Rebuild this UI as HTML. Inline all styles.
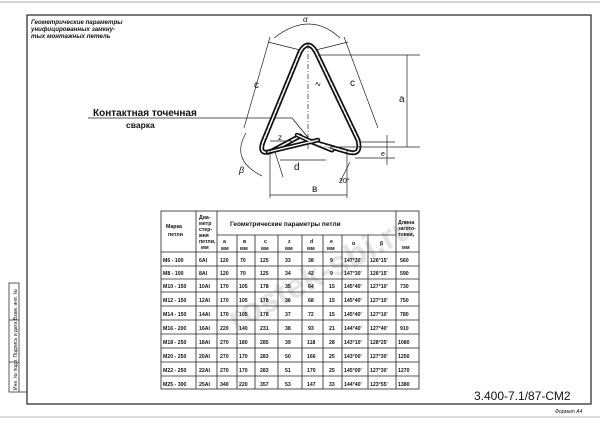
<!DOCTYPE html>
<html><head><meta charset="utf-8"><style>
html,body{margin:0;padding:0;background:#fff;}
svg{display:block;}
text{font-family:"Liberation Sans","DejaVu Sans",sans-serif;fill:#111;}
</style></head><body>
<svg width="600" height="427" viewBox="0 0 600 427" xmlns="http://www.w3.org/2000/svg">
<rect width="600" height="427" fill="#fff"/>
<line x1="0" y1="2" x2="600" y2="2" stroke="#aaa" stroke-width="1"/>
<line x1="0" y1="417" x2="600" y2="417" stroke="#bbb" stroke-width="1"/>
<rect x="27" y="15" width="564" height="389" fill="none" stroke="#222" stroke-width="1.2"/>
<!-- left stamp -->
<g stroke="#333" stroke-width="0.8" fill="none">
<rect x="9" y="283" width="10" height="109"/>
<line x1="9" y1="320" x2="19" y2="320"/><line x1="9" y1="362" x2="19" y2="362"/>
<line x1="19" y1="392" x2="27" y2="392"/>
</g>
<text transform="translate(17,390) rotate(-90)" font-size="5">Инв. № подл.   Подпись и дата   Взам. инв. №</text>
<!-- title -->
<text x="31" y="24" font-size="6.2" font-weight="bold" font-style="italic">Геометрические параметры</text>
<text x="31" y="31" font-size="6.2" font-weight="bold" font-style="italic">унифицированных замкну-</text>
<text x="31" y="38" font-size="6.2" font-weight="bold" font-style="italic">тых монтажных петель</text>
<!-- weld label -->
<text x="93" y="116" font-size="10" font-weight="bold">Контактная точечная</text>
<text x="126" y="128" font-size="8.5" font-weight="bold">сварка</text>
<polyline points="88,118 292,118 310,140" fill="none" stroke="#222" stroke-width="0.8"/>
<!-- triangle loop -->
<g fill="none" stroke-linecap="round" stroke-linejoin="round">
<path d="M300,136 L272,151 Q258,156 263,142 L300,52 Q308,38 316,52 L358,140 Q362,156 348,152 L310,141 L332,150" stroke="#111" stroke-width="5"/>
<path d="M300,136 L272,151 Q258,156 263,142 L300,52 Q308,38 316,52 L358,140 Q362,156 348,152 L310,141 L332,150" stroke="#fff" stroke-width="1.6" stroke-dasharray="4 1.5"/>
<path d="M268,152 L318,140 M297,135 L312,142" stroke="#111" stroke-width="4.5"/>
<path d="M268,152 L318,140 M297,135 L312,142" stroke="#fff" stroke-width="1.4"/>
</g>
<!-- dims -->
<g fill="none" stroke="#222" stroke-width="0.7">
<path d="M274,38 Q310,10 340,38"/>
<line x1="268" y1="42" x2="300" y2="50"/><line x1="348" y1="42" x2="316" y2="50"/>
<line x1="308" y1="44" x2="308" y2="150" stroke-dasharray="5 2 1 2"/>
<line x1="270" y1="37" x2="244" y2="128"/>
<line x1="344" y1="37" x2="378" y2="128"/>
<line x1="318" y1="55" x2="420" y2="55"/>
<line x1="330" y1="147" x2="420" y2="147"/>
<line x1="407" y1="55" x2="407" y2="147"/>
<line x1="360" y1="142" x2="395" y2="142"/>
<line x1="355" y1="158" x2="395" y2="158"/>
<line x1="387" y1="135" x2="387" y2="165"/>
<path d="M246,133 Q230,160 262,176"/>
<line x1="270" y1="150" x2="270" y2="198"/>
<line x1="347" y1="150" x2="347" y2="198"/>
<line x1="270" y1="195" x2="347" y2="195"/>
<line x1="280" y1="160" x2="326" y2="160"/>
<line x1="275" y1="152" x2="283" y2="177"/>
<line x1="340" y1="182" x2="350" y2="162"/>
<line x1="270" y1="141" x2="292" y2="141"/>
</g>
<text x="303" y="22" font-size="8" font-style="italic">α</text>
<text x="254" y="88" font-size="10">с</text>
<text x="350" y="86" font-size="10">с</text>
<text x="316" y="86" font-size="8" transform="rotate(-70 318 84)">z</text>
<text x="399" y="102" font-size="10">а</text>
<text x="381" y="156" font-size="7">е</text>
<text x="278" y="140" font-size="8">z</text>
<text x="239" y="173" font-size="9" font-style="italic">β</text>
<text x="294" y="170" font-size="10">d</text>
<text x="312" y="192" font-size="10">в</text>
<text x="339" y="183" font-size="7">20°</text>
<!-- watermark -->
<text x="200" y="290" font-size="34" transform="rotate(-28 300 240)" fill="#e2e2e2" style="fill:#e4e4e4" font-weight="bold">rostek-sbi.ru</text>
<!-- table -->
<g stroke="#222" stroke-width="0.8" fill="none">
<rect x="161" y="211" width="258" height="178"/>
<line x1="196" y1="211" x2="196" y2="389"/>
<line x1="217" y1="211" x2="217" y2="389"/>
<line x1="396" y1="211" x2="396" y2="389"/>
<line x1="217" y1="235" x2="396" y2="235"/>
<line x1="237" y1="235" x2="237" y2="389"/>
<line x1="255" y1="235" x2="255" y2="389"/>
<line x1="278" y1="235" x2="278" y2="389"/>
<line x1="302" y1="235" x2="302" y2="389"/>
<line x1="323" y1="235" x2="323" y2="389"/>
<line x1="342" y1="235" x2="342" y2="389"/>
<line x1="368" y1="235" x2="368" y2="389"/>
<line x1="161" y1="252" x2="419" y2="252"/>
<line x1="161" y1="266" x2="419" y2="266"/>
<line x1="161" y1="279" x2="419" y2="279"/>
<line x1="161" y1="292" x2="419" y2="292"/>
<line x1="161" y1="306" x2="419" y2="306"/>
<line x1="161" y1="320" x2="419" y2="320"/>
<line x1="161" y1="334" x2="419" y2="334"/>
<line x1="161" y1="348" x2="419" y2="348"/>
<line x1="161" y1="362" x2="419" y2="362"/>
<line x1="161" y1="376" x2="419" y2="376"/>
</g>
<g font-size="5.2" font-weight="bold">
<text x="166" y="228">Марка</text><text x="168" y="236">петли</text>
<text x="199" y="219">Диа-</text><text x="199" y="225">метр</text><text x="199" y="231">стер-</text><text x="199" y="237">жня</text><text x="199" y="243">петли,</text><text x="201" y="249">мм</text>
<text x="230" y="226" font-size="6.5">Геометрические параметры   петли</text>
<text x="398" y="224">Длина</text><text x="398" y="230">загото-</text><text x="398" y="236">товки,</text><text x="402" y="249">мм</text>
<text x="223" y="243">а</text><text x="221" y="250">мм</text>
<text x="243" y="243">в</text><text x="240" y="250">мм</text>
<text x="264" y="243">с</text><text x="261" y="250">мм</text>
<text x="288" y="243">z</text><text x="285" y="250">мм</text>
<text x="310" y="243">d</text><text x="307" y="250">мм</text>
<text x="330" y="243">е</text><text x="327" y="250">мм</text>
<text x="352" y="245">α</text><text x="380" y="245">β</text>
</g>
<g font-size="5.2" font-weight="bold">
<g id="r"></g>
<text y="262"><tspan x="163">М6 - 100</tspan><tspan x="199">6АI</tspan><tspan x="220">120</tspan><tspan x="240">70</tspan><tspan x="260">125</tspan><tspan x="285">33</tspan><tspan x="308">38</tspan><tspan x="330">9</tspan><tspan x="344">147°30'</tspan><tspan x="370">126°15'</tspan><tspan x="400">560</tspan></text>
<text y="275"><tspan x="163">М8 - 100</tspan><tspan x="199">8АI</tspan><tspan x="220">120</tspan><tspan x="240">70</tspan><tspan x="260">125</tspan><tspan x="285">34</tspan><tspan x="308">42</tspan><tspan x="330">9</tspan><tspan x="344">147°30'</tspan><tspan x="370">126°15'</tspan><tspan x="400">590</tspan></text>
<text y="288"><tspan x="163">М10 - 150</tspan><tspan x="199">10АI</tspan><tspan x="220">170</tspan><tspan x="239">105</tspan><tspan x="260">178</tspan><tspan x="285">35</tspan><tspan x="308">64</tspan><tspan x="329">15</tspan><tspan x="344">145°40'</tspan><tspan x="370">127°10'</tspan><tspan x="400">730</tspan></text>
<text y="302"><tspan x="163">М12 - 150</tspan><tspan x="199">12АI</tspan><tspan x="220">170</tspan><tspan x="239">105</tspan><tspan x="260">178</tspan><tspan x="285">36</tspan><tspan x="308">68</tspan><tspan x="329">15</tspan><tspan x="344">145°40'</tspan><tspan x="370">127°10'</tspan><tspan x="400">750</tspan></text>
<text y="316"><tspan x="163">М14 - 150</tspan><tspan x="199">14АI</tspan><tspan x="220">170</tspan><tspan x="239">105</tspan><tspan x="260">178</tspan><tspan x="285">37</tspan><tspan x="308">72</tspan><tspan x="329">15</tspan><tspan x="344">145°40'</tspan><tspan x="370">127°10'</tspan><tspan x="400">780</tspan></text>
<text y="330"><tspan x="163">М16 - 200</tspan><tspan x="199">16АI</tspan><tspan x="220">220</tspan><tspan x="239">140</tspan><tspan x="260">231</tspan><tspan x="285">38</tspan><tspan x="308">93</tspan><tspan x="329">21</tspan><tspan x="344">144°40'</tspan><tspan x="370">127°40'</tspan><tspan x="400">910</tspan></text>
<text y="344"><tspan x="163">М18 - 250</tspan><tspan x="199">18АI</tspan><tspan x="220">270</tspan><tspan x="239">180</tspan><tspan x="260">285</tspan><tspan x="285">39</tspan><tspan x="307">118</tspan><tspan x="329">28</tspan><tspan x="344">143°10'</tspan><tspan x="370">128°25'</tspan><tspan x="398">1080</tspan></text>
<text y="358"><tspan x="163">М20 - 250</tspan><tspan x="199">20АI</tspan><tspan x="220">270</tspan><tspan x="239">170</tspan><tspan x="260">283</tspan><tspan x="285">50</tspan><tspan x="307">166</tspan><tspan x="329">25</tspan><tspan x="344">143°00'</tspan><tspan x="370">127°30'</tspan><tspan x="398">1250</tspan></text>
<text y="372"><tspan x="163">М22 - 250</tspan><tspan x="199">22АI</tspan><tspan x="220">270</tspan><tspan x="239">170</tspan><tspan x="260">283</tspan><tspan x="285">51</tspan><tspan x="307">170</tspan><tspan x="329">25</tspan><tspan x="344">145°00'</tspan><tspan x="370">127°30'</tspan><tspan x="398">1270</tspan></text>
<text y="386"><tspan x="163">М25 - 300</tspan><tspan x="199">25АI</tspan><tspan x="220">340</tspan><tspan x="239">220</tspan><tspan x="260">357</tspan><tspan x="285">53</tspan><tspan x="307">147</tspan><tspan x="329">33</tspan><tspan x="344">144°40'</tspan><tspan x="370">123°55'</tspan><tspan x="398">1380</tspan></text>
</g>
<text x="474" y="400" font-size="12">3.400-7.1/87-СМ2</text>
<text x="555" y="413" font-size="5" font-style="italic">Формат А4</text>
</svg>
</body></html>
